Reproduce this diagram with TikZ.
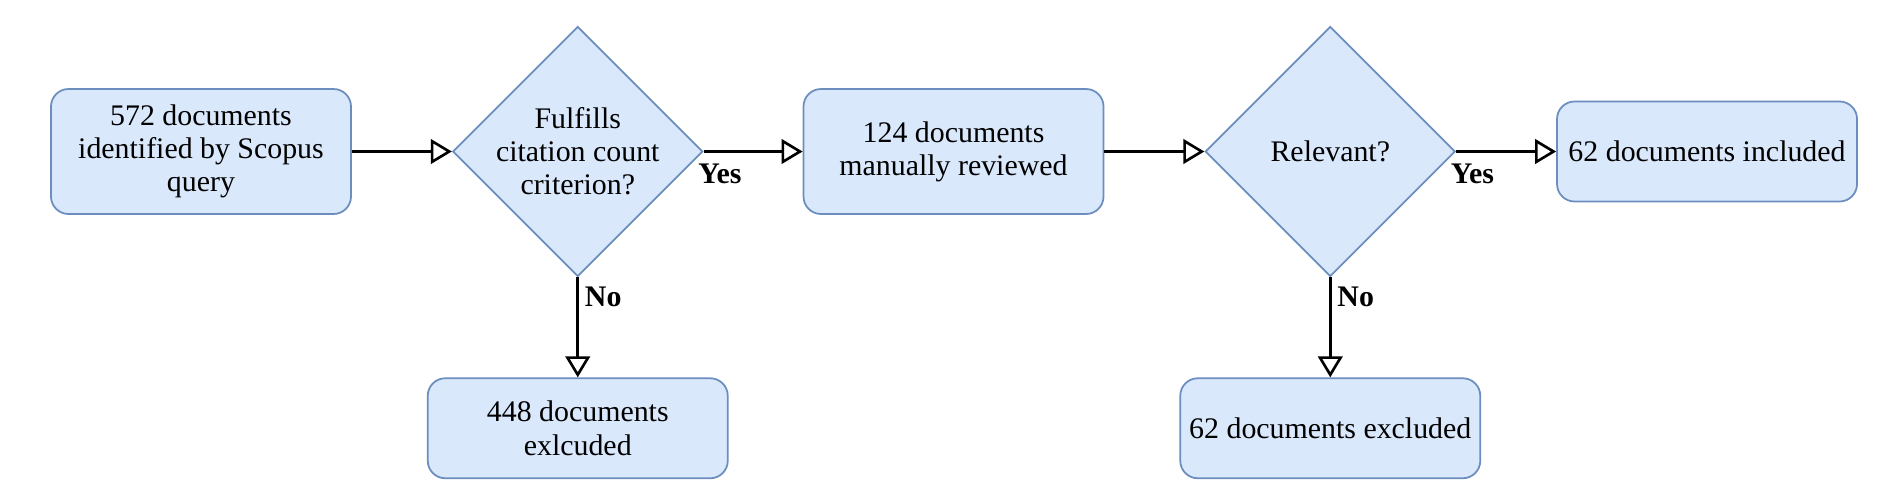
\documentclass[tikz,border=0pt]{standalone}
\usepackage{fontspec}
\setmainfont{Liberation Serif}
\definecolor{boxfill}{HTML}{DAE8FC}
\definecolor{boxline}{HTML}{6C8EBF}
\usetikzlibrary{shapes.geometric, arrows.meta,
                positioning}

\begin{document}
\begin{tikzpicture}[
    font=\fontsize{17pt}{18.8pt}\selectfont,
    docbox/.style={draw=boxline, fill=boxfill, rounded corners=0.35cm,
                   line width=1pt, minimum width=6cm, minimum height=2.5cm,
                   align=center, inner sep=0pt},
    decision/.style={diamond, draw=boxline, fill=boxfill, line width=1pt,
                     minimum width=5cm, minimum height=5cm, inner sep=0pt},
    flow/.style={line width=1.5pt, -{Triangle[open, length=12pt, width=14pt]}},
    answer/.style={font=\fontsize{17pt}{18.8pt}\selectfont\bfseries}
  ]
    \useasboundingbox (0,0) rectangle (38.06,-10.06);

    % main line
    \node[docbox] (found) at (4.02,-3.03) {572 documents\\identified by Scopus\\query};
    \node[decision, right=2cm of found,
          label={[align=center]center:Fulfills\\citation count\\criterion?}] (cited) {};
    \node[docbox, right=1.98cm of cited] (reviewed) {124 documents\\manually reviewed};
    \node[decision, right=2cm of reviewed, label=center:Relevant?] (relevant) {};
    \node[docbox, minimum height=2cm, right=2cm of relevant] (included) {62 documents included};

    % rejected branches
    \node[docbox, minimum height=2cm, below=2cm of cited] (dropped) {448 documents\\exlcuded};
    \node[docbox, minimum height=2cm, below=2cm of relevant] (excluded) {62 documents excluded};

    \draw[flow] (found) -- (cited);
    \draw[flow] (cited) -- node[answer, below right, pos=0, xshift=-0.25cm, yshift=-0.1cm] {Yes} (reviewed);
    \draw[flow] (cited) -- node[answer, below right, pos=0, yshift=-0.05cm] {No} (dropped);
    \draw[flow] (reviewed) -- (relevant);
    \draw[flow] (relevant) -- node[answer, below right, pos=0, xshift=-0.25cm, yshift=-0.1cm] {Yes} (included);
    \draw[flow] (relevant) -- node[answer, below right, pos=0, yshift=-0.05cm] {No} (excluded);
  \end{tikzpicture}
\end{document}
